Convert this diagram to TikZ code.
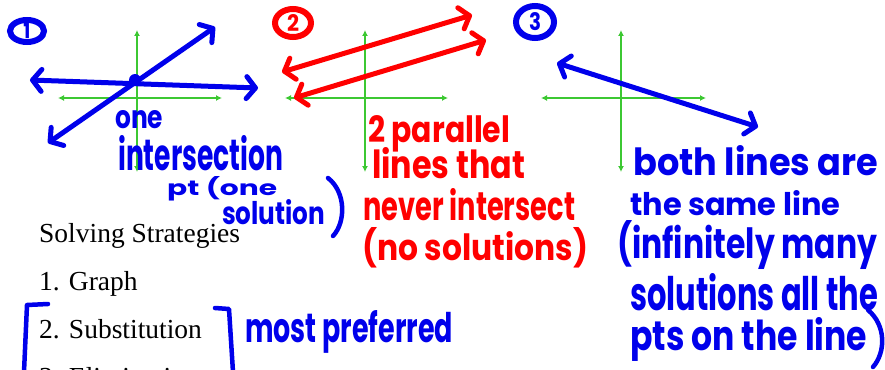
\documentclass[tikz,border=0pt]{standalone}
\usepackage{fontspec}
\setmainfont{Liberation Serif}
\newfontfamily\hand{Poppins}
\usetikzlibrary{arrows.meta}
\definecolor{pblue}{RGB}{0,0,235}
\definecolor{pred}{RGB}{255,0,0}
\definecolor{pgreen}{RGB}{60,200,50}
\newcommand{\hw}[3]{\resizebox{#1pt}{#2pt}{\hand\bfseries #3}}
\begin{document}
\begin{tikzpicture}[x=1pt,y=-1pt,
  axis/.style={pgreen, line width=1.8pt, {Latex[length=6pt,width=6pt]}-{Latex[length=6pt,width=6pt]}},
  penline/.style={line width=5pt, line cap=round, line join=round,
    {Straight Barb[length=9pt,width=22pt,line cap=round,line join=round]}-{Straight Barb[length=9pt,width=22pt,line cap=round,line join=round]}},
  stroke/.style={line width=4.5pt, line cap=round, line join=round},
  ring/.style={line width=6pt},
  note/.style={anchor=base west, inner sep=0pt},
  typed/.style={anchor=base west, inner sep=0pt, font=\fontsize{27.5}{30}\selectfont}]
\useasboundingbox (0,0) rectangle (885,369);
\clip (0,0) rectangle (885,369);

% ---------- axes ----------
\coordinate (a1t) at (137,30); \coordinate (a1b) at (137,172);
\coordinate (a1l) at (58,98);  \coordinate (a1r) at (222,98);
\coordinate (a2t) at (365,30); \coordinate (a2b) at (365,172);
\coordinate (a2l) at (285,98); \coordinate (a2r) at (448,98);
\coordinate (a3t) at (621,30); \coordinate (a3b) at (621,172);
\coordinate (a3l) at (541,98); \coordinate (a3r) at (706,98);
\draw[axis] (a1t) -- (a1b); \draw[axis] (a1l) -- (a1r);
\draw[axis] (a2t) -- (a2b); \draw[axis] (a2l) -- (a2r);
\draw[axis] (a3t) -- (a3b); \draw[axis] (a3l) -- (a3r);

% ---------- graph 1 ----------
\coordinate (h1a) at (30,80);  \coordinate (h1b) at (258,88);
\coordinate (d1a) at (48,143); \coordinate (d1b) at (215,27);
\draw[penline, pblue] (h1a) -- (h1b);
\draw[penline, pblue] (d1a) -- (d1b);
\fill[pblue] (135,80) circle (6pt);

% ---------- graph 2 ----------
\coordinate (r1a) at (282,72); \coordinate (r1b) at (472,15);
\coordinate (r2a) at (294,98); \coordinate (r2b) at (486,40);
\draw[penline, pred] (r1a) -- (r1b);
\draw[penline, pred] (r2a) -- (r2b);

% ---------- graph 3 ----------
\coordinate (b3a) at (557,63); \coordinate (b3b) at (758,127);
\draw[penline, pblue] (b3a) -- (b3b);

% ---------- circled numbers ----------
\draw[ring, pblue] (27,31) ellipse [x radius=17, y radius=11];
\node[inner sep=0, pblue] (n1) at (27,31) {\hw{7}{15}{1}};
\draw[ring, pred] (293,23) ellipse [x radius=18, y radius=14];
\node[inner sep=0, pred] (n2) at (293,23) {\hw{12}{17}{2}};
\draw[ring, pblue] (535,22) ellipse [x radius=19, y radius=16];
\node[inner sep=0, pblue] (n3) at (535,22) {\hw{12}{18}{3}};

% ---------- notes graph 1 ----------
\node[note, pblue] (t1) at (115,128) {\hw{48}{18}{one}};
\node[note, pblue] (t2) at (118,170) {\hw{165}{35}{intersection}};
\node[note, pblue] (t3) at (167,195) {\hw{110}{19}{pt (one}};
\node[note, pblue] (t4) at (222,224) {\hw{103}{25}{solution}};
\draw[stroke, pblue] (328,178) .. controls (346,192) and (346,222) .. (333,236);

% ---------- notes graph 2 ----------
\node[note, pred] (r1) at (368,142) {\hw{142}{27}{2 parallel}};
\node[note, pred] (r2) at (372,178) {\hw{153}{31}{lines that}};
\node[note, pred] (r3) at (363,220) {\hw{212}{32}{never intersect}};
\node[note, pred] (r4) at (362,260) {\hw{226}{33}{(no solutions)}};

% ---------- notes graph 3 ----------
\node[note, pblue] (s1) at (633,175) {\hw{245}{30}{both lines are}};
\node[note, pblue] (s2) at (630,215) {\hw{210}{25}{the same line}};
\node[note, pblue] (s3) at (617,258) {\hw{260}{38}{(infinitely many}};
\node[note, pblue] (s4) at (630,310) {\hw{248}{37}{solutions all the}};
\node[note, pblue] (s5) at (630,350) {\hw{237}{33}{pts on the line}};
\draw[stroke, pblue] (868,310) .. controls (886,325) and (886,352) .. (873,367);

% ---------- typed list ----------
\node[typed] (l0) at (39,242) {Solving Strategies};
\node[typed] (l1) at (39,290) {1. Graph};
\node[typed] (l2) at (39,338) {2. Substitution};
\node[typed] (l3) at (39,386) {3. Elimination};

% ---------- brackets ----------
\coordinate (bl1) at (48,304); \coordinate (bl2) at (27,305); \coordinate (bl3) at (24,372);
\draw[stroke, pblue] (bl1) -- (bl2) -- (bl3);
\coordinate (br1) at (215,308); \coordinate (br2) at (229,309); \coordinate (br3) at (233,372);
\draw[stroke, pblue] (br1) -- (br2) -- (br3);
\node[note, pblue] (mp) at (245,342) {\hw{208}{32}{most preferred}};
\end{tikzpicture}
\end{document}
